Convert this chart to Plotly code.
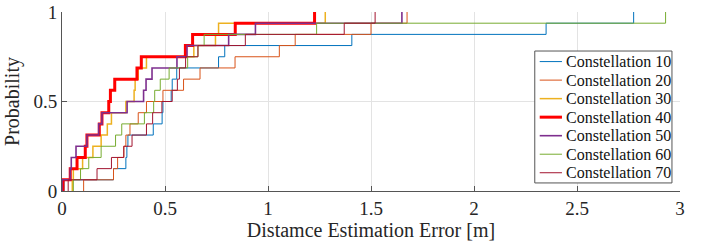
import plotly.graph_objects as go

# Sorted samples (distance estimation error, m) for each constellation
const10 = [0.01, 0.25, 0.31, 0.315, 0.32, 0.443, 0.486, 0.49, 0.53, 0.535, 0.557, 0.76, 0.79, 1.407, 2.35, 2.775]
const20 = [0.105, 0.25, 0.27, 0.30, 0.31, 0.33, 0.37, 0.41, 0.49, 0.59, 0.67, 0.84, 1.055, 1.132, 1.50, 1.675]
const30 = [0.05, 0.055, 0.10, 0.15, 0.19, 0.22, 0.24, 0.31, 0.35, 0.355, 0.37, 0.41, 0.64, 0.745, 0.76, 1.278]
const40 = [0.005, 0.04, 0.073, 0.113, 0.121, 0.181, 0.194, 0.227, 0.235, 0.256, 0.364, 0.385, 0.599, 0.634, 0.841, 1.226]
const50 = [0.0, 0.04, 0.045, 0.068, 0.121, 0.178, 0.194, 0.316, 0.396, 0.408, 0.437, 0.558, 0.607, 0.809, 0.939, 1.65]
const60 = [0.055, 0.09, 0.13, 0.19, 0.26, 0.29, 0.40, 0.445, 0.45, 0.477, 0.52, 0.61, 0.66, 0.69, 1.236, 2.93]
const70 = [0.03, 0.17, 0.24, 0.30, 0.34, 0.41, 0.44, 0.485, 0.535, 0.56, 0.57, 0.60, 0.66, 0.89, 1.37, 1.52]

series_names = ["Constellation 10", "Constellation 20", "Constellation 30", "Constellation 40",
                "Constellation 50", "Constellation 60", "Constellation 70"]
series_data = [const10, const20, const30, const40, const50, const60, const70]
colors = ["#0072BD", "#D95319", "#EDB120", "#FF0000", "#7E2F8E", "#77AC30", "#A2142F"]
widths = [1, 1, 1.5, 3, 1.6, 1, 1]

x_ticks = [0, 0.5, 1, 1.5, 2, 2.5, 3]
x_tick_labels = ["0", "0.5", "1", "1.5", "2", "2.5", "3"]
y_ticks = [0, 0.5, 1]
y_tick_labels = ["0", "0.5", "1"]

serif = "Liberation Serif"

fig = go.Figure()
for name, vals, col, w in zip(series_names, series_data, colors, widths):
    s = sorted(vals)
    n = len(s)
    xs = s + [s[-1]]
    ys = [i / n for i in range(n)] + [1.0]
    fig.add_trace(go.Scatter(x=xs, y=ys, mode="lines", name=name, showlegend=False,
                             line=dict(color=col, width=w, shape="vh")))

# Legend box (framed, white, lower right of the axes, as in the reference)
lg_x0, lg_x1 = 0.765, 0.987
lg_y0, lg_y1 = 0.045, 0.782
shapes = [dict(type="rect", xref="paper", yref="paper", x0=lg_x0, x1=lg_x1, y0=lg_y0, y1=lg_y1,
               fillcolor="white", line=dict(color="#555555", width=1), layer="above")]
annotations = []
row_top = 0.723
row_step = 0.1035
for i, (name, col, w) in enumerate(zip(series_names, colors, widths)):
    yc = row_top - i * row_step
    shapes.append(dict(type="line", xref="paper", yref="paper", x0=0.773, x1=0.809, y0=yc, y1=yc,
                       line=dict(color=col, width=w), layer="above"))
    annotations.append(dict(xref="paper", yref="paper", x=0.812, y=yc, xanchor="left", yanchor="middle",
                            text=name, showarrow=False,
                            font=dict(family=serif, size=16, color="#111111")))

fig.update_layout(
    width=710, height=244,
    margin=dict(l=62, r=30, t=12, b=53),
    paper_bgcolor="white", plot_bgcolor="white",
    font=dict(family=serif, color="#262626"),
    showlegend=False,
    shapes=shapes,
    annotations=annotations,
    xaxis=dict(range=[0, 3], tickvals=x_ticks, ticktext=x_tick_labels, automargin=False,
               showgrid=True, gridcolor="#e3e3e3", gridwidth=1, zeroline=False,
               showline=True, linecolor="#555555", linewidth=1,
               ticks="inside", ticklen=5, tickcolor="#555555",
               tickfont=dict(size=19, family=serif, color="#262626"),
               title=dict(text="Distamce Estimation Error [m]", font=dict(size=20, family=serif), standoff=4)),
    yaxis=dict(range=[0, 1], tickvals=y_ticks, ticktext=y_tick_labels, automargin=False,
               showgrid=True, gridcolor="#e3e3e3", gridwidth=1, zeroline=False,
               showline=True, linecolor="#555555", linewidth=1,
               ticks="inside", ticklen=5, tickcolor="#555555",
               tickfont=dict(size=19, family=serif, color="#262626"),
               title=dict(text="Probability", font=dict(size=20, family=serif), standoff=8)),
)

fig.write_html("out.html", config={"displayModeBar": False},
               post_script="document.body.style.margin='0';")
